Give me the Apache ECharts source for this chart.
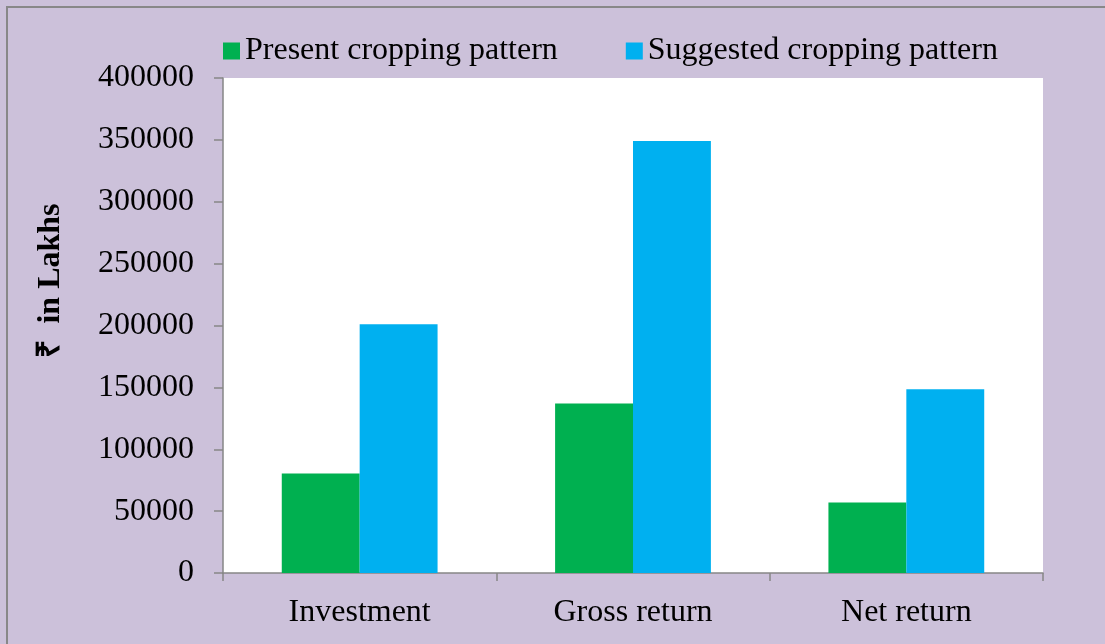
<!DOCTYPE html>
<html>
<head>
<meta charset="utf-8">
<script src="https://cdn.jsdelivr.net/npm/echarts@6/dist/echarts.min.js"></script>
<style>
  html, body { margin: 0; padding: 0; background: #ccc1da; }
  #chart { width: 1105px; height: 644px; }
</style>
</head>
<body>
<div id="chart"></div>
<script>
"use strict"

const categories = ["Investment", "Gross return", "Net return"];
const presentPattern = [80500, 137000, 57000];
const suggestedPattern = [201000, 349000, 148500];
const seriesNames = ["Present cropping pattern", "Suggested cropping pattern"];

const serif = "'Liberation Serif', 'Times New Roman', serif";
const axisGrey = "#868686";

let chart = echarts.init(document.getElementById("chart"));

chart.setOption({
    backgroundColor: "#ccc1da",
    animation: false,
    graphic: [{
        type: "rect",
        shape: { x: 7, y: 7, width: 1110, height: 650 },
        style: { fill: "none", stroke: "#888888", lineWidth: 2 },
        silent: true
    }],
    legend: {
        left: 218,
        top: 30,
        itemWidth: 17,
        itemHeight: 17,
        itemGap: 68,
        icon: "rect",
        textStyle: { fontFamily: serif, fontSize: 32, color: "#000" },
        data: seriesNames
    },
    grid: {
        left: 223,
        right: 62,
        top: 78,
        bottom: 71,
        show: true,
        backgroundColor: "#ffffff",
        borderWidth: 0
    },
    xAxis: {
        type: "category",
        data: categories,
        axisLine: { lineStyle: { color: axisGrey, width: 1.5 } },
        axisTick: { show: true, length: 8, alignWithLabel: false, lineStyle: { color: axisGrey, width: 1.5 } },
        axisLabel: { fontFamily: serif, fontSize: 32, color: "#000", margin: 24 }
    },
    yAxis: {
        type: "value",
        min: 0,
        max: 400000,
        interval: 50000,
        name: "₹  in Lakhs",
        nameLocation: "middle",
        nameGap: 156,
        nameTextStyle: {
            fontFamily: serif,
            fontSize: 32,
            fontWeight: "bold",
            color: "#000",
            padding: [0, 0, 0, 90]
        },
        axisLine: { show: true, lineStyle: { color: axisGrey, width: 1.5 } },
        axisTick: { show: true, length: 9, lineStyle: { color: axisGrey, width: 1.5 } },
        splitLine: { show: false },
        axisLabel: {
            fontFamily: serif,
            fontSize: 32,
            color: "#000",
            margin: 29,
            formatter: (v) => String(v)
        }
    },
    series: [
        {
            name: seriesNames[0],
            type: "bar",
            data: presentPattern,
            barGap: "0%",
            barCategoryGap: "43%",
            itemStyle: { color: "#00b050" }
        },
        {
            name: seriesNames[1],
            type: "bar",
            data: suggestedPattern,
            barGap: "0%",
            barCategoryGap: "43%",
            itemStyle: { color: "#00b0f0" }
        }
    ]
});
</script>
</body>
</html>
